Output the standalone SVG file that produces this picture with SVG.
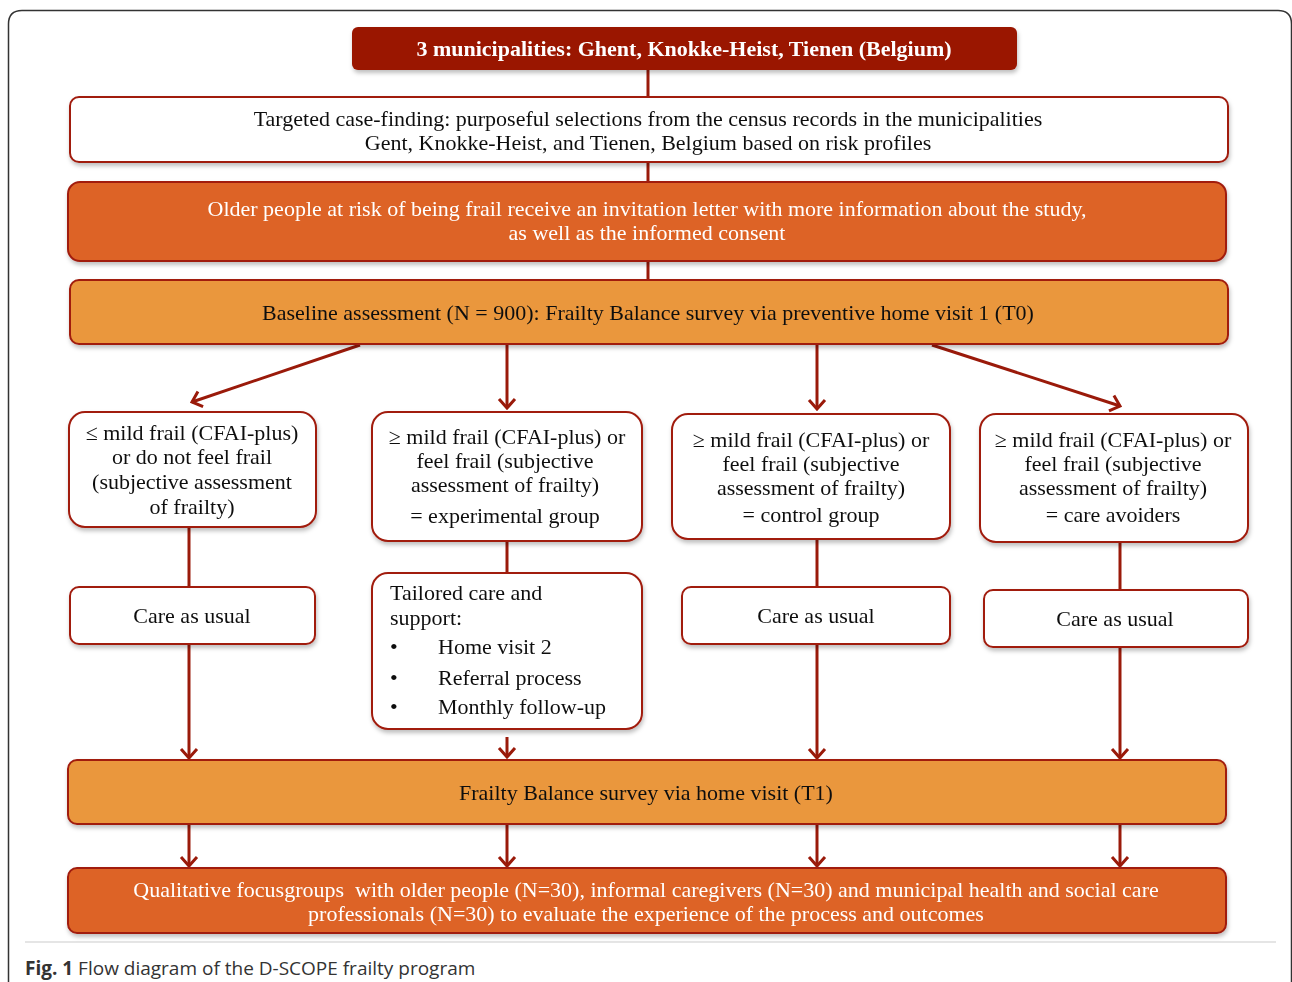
<svg xmlns="http://www.w3.org/2000/svg" width="1292" height="982" viewBox="0 0 1292 982">
<defs>
<filter id="sh" x="-5%" y="-10%" width="110%" height="130%">
<feDropShadow dx="1" dy="3" stdDeviation="2" flood-color="#000" flood-opacity="0.25"/>
</filter>
<marker id="ah" markerUnits="userSpaceOnUse" viewBox="-12 -10 14 20" refX="0" refY="0" markerWidth="14" markerHeight="20" orient="auto">
<path d="M-9,-8 L0,0 L-9,8" fill="none" stroke="#9a1a0a" stroke-width="3" stroke-linejoin="miter"/>
</marker>
<style>
.t{font-family:"Liberation Serif","DejaVu Serif",serif;font-size:22px;fill:#111;text-anchor:middle}
.w{fill:#fff}
.b{font-weight:bold}
.box{fill:#fff;stroke:#a11d10;stroke-width:2}
.o1{fill:#dd6325;stroke:#a11d10;stroke-width:2}
.o2{fill:#ea973d;stroke:#a11d10;stroke-width:2}
.c line,.c path{stroke:#9a1a0a;stroke-width:3;fill:none}
.l{text-anchor:start}
</style>
</defs>
<rect width="1292" height="982" fill="#fff"/>
<path d="M8.5 982 L8.5 24 Q8.5 10.5 22 10.5 L1278 10.5 Q1291.5 10.5 1291.5 24 L1291.5 982" fill="none" stroke="#333" stroke-width="1.5"/>
<line x1="25" y1="942" x2="1276" y2="942" stroke="#ddd" stroke-width="1.5"/>
<text x="25" y="975" font-family="'Open Sans','Noto Sans',sans-serif" font-size="19" fill="#333"><tspan font-weight="bold">Fig. 1</tspan> Flow diagram of the D-SCOPE frailty program</text>

<g class="c" id="connectors">
<line x1="648" y1="70" x2="648" y2="98"/>
<line x1="648" y1="162" x2="648" y2="183"/>
<line x1="648" y1="261" x2="648" y2="281"/>
<line x1="360" y1="345" x2="192" y2="402" marker-end="url(#ah)"/>
<line x1="507" y1="345" x2="507" y2="408" marker-end="url(#ah)"/>
<line x1="817" y1="345" x2="817" y2="409" marker-end="url(#ah)"/>
<line x1="932" y1="345" x2="1120" y2="406" marker-end="url(#ah)"/>
<line x1="189" y1="527" x2="189" y2="588"/>
<line x1="507" y1="541" x2="507" y2="574"/>
<line x1="817" y1="539" x2="817" y2="588"/>
<line x1="1120" y1="542" x2="1120" y2="591"/>
<line x1="189" y1="644" x2="189" y2="758" marker-end="url(#ah)"/>
<line x1="507" y1="737" x2="507" y2="757" marker-end="url(#ah)"/>
<line x1="817" y1="644" x2="817" y2="758" marker-end="url(#ah)"/>
<line x1="1120" y1="647" x2="1120" y2="758" marker-end="url(#ah)"/>
<line x1="189" y1="824" x2="189" y2="866" marker-end="url(#ah)"/>
<line x1="507" y1="824" x2="507" y2="866" marker-end="url(#ah)"/>
<line x1="817" y1="824" x2="817" y2="866" marker-end="url(#ah)"/>
<line x1="1120" y1="824" x2="1120" y2="866" marker-end="url(#ah)"/>
</g>

<g id="municipalities" filter="url(#sh)">
<rect x="352" y="27" width="665" height="43" rx="6" fill="#9a1500"/>
<text class="t w b" x="684" y="56">3 municipalities: Ghent, Knokke-Heist, Tienen (Belgium)</text>
</g>
<g id="casefinding" filter="url(#sh)">
<rect class="box" x="70" y="97" width="1158" height="65" rx="9"/>
<text class="t" x="648" y="126">Targeted case-finding: purposeful selections from the census records in the municipalities</text>
<text class="t" x="648" y="150">Gent, Knokke-Heist, and Tienen, Belgium based on risk profiles</text>
</g>
<g id="invitation" filter="url(#sh)">
<rect class="o1" x="68" y="182" width="1158" height="79" rx="12"/>
<text class="t w" x="647" y="216">Older people at risk of being frail receive an invitation letter with more information about the study,</text>
<text class="t w" x="647" y="240">as well as the informed consent</text>
</g>
<g id="baseline" filter="url(#sh)">
<rect class="o2" x="70" y="280" width="1158" height="64" rx="9"/>
<text class="t" x="648" y="320">Baseline assessment (N = 900): Frailty Balance survey via preventive home visit 1 (T0)</text>
</g>

<g id="group1" filter="url(#sh)">
<rect class="box" x="69" y="412" width="247" height="115" rx="16"/>
<text class="t" x="192" y="440">≤ mild frail (CFAI-plus)</text>
<text class="t" x="192" y="464">or do not feel frail</text>
<text class="t" x="192" y="489">(subjective assessment</text>
<text class="t" x="192" y="514">of frailty)</text>
</g>
<g id="group2" filter="url(#sh)">
<rect class="box" x="372" y="412" width="270" height="129" rx="16"/>
<text class="t" x="507" y="444">≥ mild frail (CFAI-plus) or</text>
<text class="t" x="505" y="468">feel frail (subjective</text>
<text class="t" x="505" y="492">assessment of frailty)</text>
<text class="t" x="505" y="523">= experimental group</text>
</g>
<g id="group3" filter="url(#sh)">
<rect class="box" x="672" y="414" width="278" height="125" rx="16"/>
<text class="t" x="811" y="447">≥ mild frail (CFAI-plus) or</text>
<text class="t" x="811" y="471">feel frail (subjective</text>
<text class="t" x="811" y="495">assessment of frailty)</text>
<text class="t" x="811" y="522">= control group</text>
</g>
<g id="group4" filter="url(#sh)">
<rect class="box" x="980" y="414" width="268" height="128" rx="16"/>
<text class="t" x="1113" y="447">≥ mild frail (CFAI-plus) or</text>
<text class="t" x="1113" y="471">feel frail (subjective</text>
<text class="t" x="1113" y="495">assessment of frailty)</text>
<text class="t" x="1113" y="522">= care avoiders</text>
</g>

<g id="care1" filter="url(#sh)">
<rect class="box" x="70" y="587" width="245" height="57" rx="9"/>
<text class="t" x="192" y="623">Care as usual</text>
</g>
<g id="tailored" filter="url(#sh)">
<rect class="box" x="372" y="573" width="270" height="156" rx="16"/>
<text class="t l" x="390" y="600">Tailored care and</text>
<text class="t l" x="390" y="625">support:</text>
<text class="t l" x="390" y="654">•</text>
<text class="t l" x="438" y="654">Home visit 2</text>
<text class="t l" x="390" y="685">•</text>
<text class="t l" x="438" y="685">Referral process</text>
<text class="t l" x="390" y="714">•</text>
<text class="t l" x="438" y="714">Monthly follow-up</text>
</g>
<g id="care3" filter="url(#sh)">
<rect class="box" x="682" y="587" width="268" height="57" rx="9"/>
<text class="t" x="816" y="623">Care as usual</text>
</g>
<g id="care4" filter="url(#sh)">
<rect class="box" x="984" y="590" width="264" height="57" rx="9"/>
<text class="t" x="1115" y="626">Care as usual</text>
</g>

<g id="followup" filter="url(#sh)">
<rect class="o2" x="68" y="760" width="1158" height="64" rx="9"/>
<text class="t" x="646" y="800">Frailty Balance survey via home visit (T1)</text>
</g>
<g id="focusgroups" filter="url(#sh)">
<rect class="o1" x="68" y="868" width="1158" height="65" rx="9"/>
<text class="t w" x="646" y="897" xml:space="preserve">Qualitative focusgroups  with older people (N=30), informal caregivers (N=30) and municipal health and social care</text>
<text class="t w" x="646" y="921">professionals (N=30) to evaluate the experience of the process and outcomes</text>
</g>
</svg>
